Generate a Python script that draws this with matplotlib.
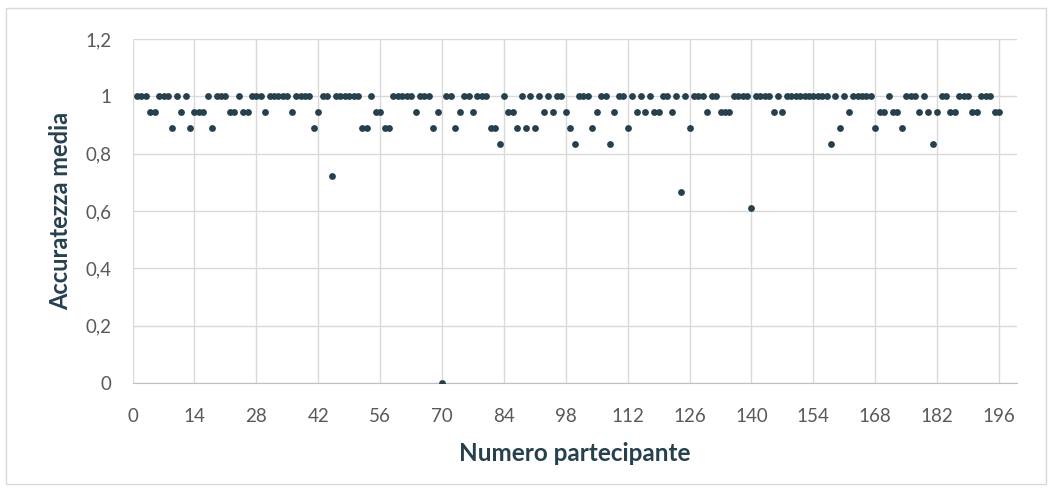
import numpy as np
import matplotlib.pyplot as plt
from matplotlib.patches import Rectangle
from matplotlib.ticker import MultipleLocator, FuncFormatter

# accuratezza media per partecipante (1..196)
acc_1_28 = [1, 1, 1, 0.944, 0.944, 1, 1, 1, 0.889, 1, 0.944, 1, 0.889, 0.944,
            0.944, 0.944, 1, 0.889, 1, 1, 1, 0.944, 0.944, 1, 0.944, 0.944, 1, 1]
acc_29_56 = [1, 0.944, 1, 1, 1, 1, 1, 0.944, 1, 1, 1, 1, 0.889, 0.944,
             1, 1, 0.722, 1, 1, 1, 1, 1, 1, 0.889, 0.889, 1, 0.944, 0.944]
acc_57_84 = [0.889, 0.889, 1, 1, 1, 1, 1, 0.944, 1, 1, 1, 0.889, 0.944, 0,
             1, 1, 0.889, 0.944, 1, 1, 0.944, 1, 1, 1, 0.889, 0.889, 0.833, 1]
acc_85_112 = [0.944, 0.944, 0.889, 1, 0.889, 1, 0.889, 1, 0.944, 1, 0.944, 1, 1, 0.944,
              0.889, 0.833, 1, 1, 1, 0.889, 0.944, 1, 1, 0.833, 0.944, 1, 1, 0.889]
acc_113_140 = [1, 0.944, 1, 0.944, 1, 0.944, 0.944, 1, 1, 0.944, 1, 0.667, 1, 0.889,
               1, 1, 1, 0.944, 1, 1, 0.944, 0.944, 0.944, 1, 1, 1, 1, 0.611]
acc_141_168 = [1, 1, 1, 1, 0.944, 1, 0.944, 1, 1, 1, 1, 1, 1, 1,
               1, 1, 1, 0.833, 1, 0.889, 1, 0.944, 1, 1, 1, 1, 1, 0.889]
acc_169_196 = [0.944, 0.944, 1, 0.944, 0.944, 0.889, 1, 1, 1, 0.944, 1, 0.944, 0.833, 0.944,
               1, 1, 0.944, 0.944, 1, 1, 1, 0.944, 0.944, 1, 1, 1, 0.944, 0.944]

accuratezza = (acc_1_28 + acc_29_56 + acc_57_84 + acc_85_112
               + acc_113_140 + acc_141_168 + acc_169_196)
partecipanti = np.arange(1, len(accuratezza) + 1)

plt.rcParams['font.family'] = ['Lato', 'DejaVu Sans']

dot_color = '#26404e'
text_color = '#595959'
grid_color = '#d9d9d9'

fig = plt.figure(figsize=(10.54, 4.92), dpi=100)
fig.patches.append(Rectangle((6 / 1054, 8 / 492), 1040 / 1054, 476 / 492,
                             transform=fig.transFigure, fill=False,
                             edgecolor='#d9d9d9', linewidth=1))

ax = fig.add_axes([132.6 / 1054, 1 - 383 / 492, (1016.7 - 132.6) / 1054, (383 - 39) / 492])
ax.scatter(partecipanti, accuratezza, s=24, color=dot_color, zorder=3, linewidths=0)

ax.set_xlim(0, 200)
ax.set_ylim(0, 1.2)
ax.xaxis.set_major_locator(MultipleLocator(14))
ax.yaxis.set_major_locator(MultipleLocator(0.2))
ax.yaxis.set_major_formatter(FuncFormatter(lambda v, p: f'{v:g}'.replace('.', ',')))

ax.grid(True, color=grid_color, linewidth=1)
ax.set_axisbelow(True)
for side in ['top', 'right', 'left']:
    ax.spines[side].set_visible(False)
ax.spines['bottom'].set_color('#bfbfbf')
ax.spines['bottom'].set_zorder(2)

ax.tick_params(axis='both', length=0, labelsize=13.5, labelcolor=text_color)
ax.tick_params(axis='x', pad=18)
ax.tick_params(axis='y', pad=15)

ax.set_xlabel('Numero partecipante', fontsize=17.5, fontweight='bold',
              color=dot_color, labelpad=12)
ax.set_ylabel('Accuratezza media', fontsize=17, fontweight='bold',
              color=dot_color, labelpad=10)

plt.savefig('out.png', dpi=100)
